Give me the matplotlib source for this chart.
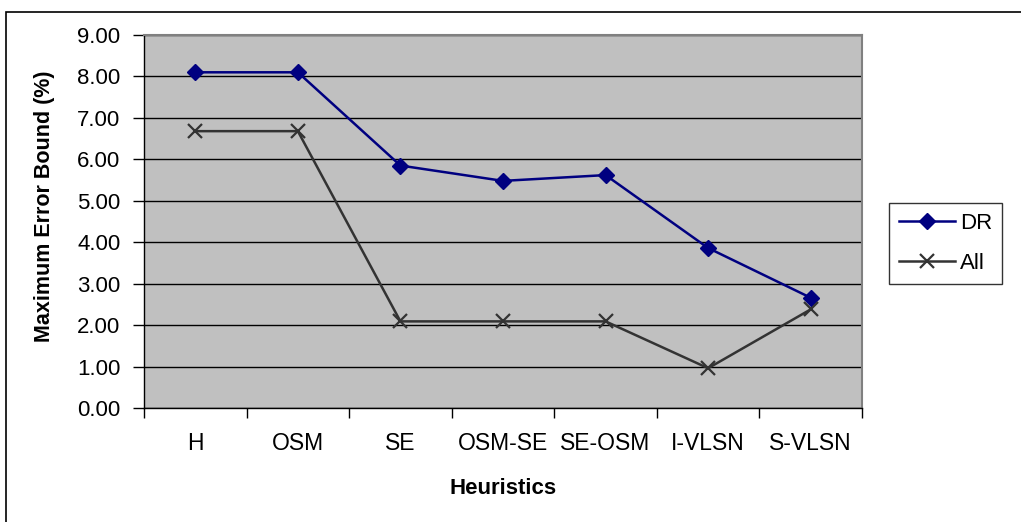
import numpy as np
import matplotlib.pyplot as plt
from matplotlib.patches import Rectangle

heuristics = ['H', 'OSM', 'SE', 'OSM-SE', 'SE-OSM', 'I-VLSN', 'S-VLSN']
dr = [8.10, 8.10, 5.85, 5.48, 5.62, 3.86, 2.66]
all_ = [6.68, 6.68, 2.09, 2.09, 2.09, 0.96, 2.38]

plt.rcParams['font.family'] = ['Liberation Sans', 'DejaVu Sans']

fig = plt.figure(figsize=(10.21, 5.22), dpi=100)
ax = fig.add_axes([144/1021, 1-408/522, (862-144)/1021, (408-35)/522])

x = np.arange(len(heuristics))
ax.set_facecolor('#C0C0C0')
ax.plot(x, dr, color='#000080', lw=1.8, marker='D', ms=8.5, label='DR', zorder=3)
ax.plot(x, all_, color='#333333', lw=1.8, marker='x', ms=10, mew=1.6, label='All', zorder=3)

ax.set_xlim(-0.5, len(heuristics) - 0.5)
ax.set_ylim(0, 9)
ax.set_yticks(np.arange(0, 10, 1))
ax.set_yticklabels([f'{v:.2f}' for v in range(10)], fontsize=16)
ax.yaxis.grid(True, color='black', lw=1)
ax.set_axisbelow(True)

ax.set_xticks(x)
ax.set_xticklabels(heuristics, fontsize=16.5)
ax.set_xticks(np.arange(-0.5, len(heuristics)), minor=True)
ax.tick_params(axis='x', which='major', length=0, pad=17)
ax.tick_params(axis='x', which='minor', length=7, width=1, color='black')
ax.tick_params(axis='y', length=8, width=1, color='black', pad=9)

for s in ['top', 'right']:
    ax.spines[s].set_color('#808080')
    ax.spines[s].set_linewidth(1.5)
for s in ['left', 'bottom']:
    ax.spines[s].set_color('black')
    ax.spines[s].set_linewidth(1)

ax.set_ylabel('Maximum Error Bound (%)', fontsize=15.5, fontweight='bold')
ax.yaxis.set_label_coords(-0.124, 0.542)
ax.set_xlabel('Heuristics', fontsize=16, fontweight='bold', labelpad=17)

leg = ax.legend(loc='upper left', bbox_to_anchor=(889/1021, 1-203/522),
                bbox_transform=fig.transFigure, frameon=True, fancybox=False,
                edgecolor='black', fontsize=16, handlelength=2.5,
                borderpad=0.45, labelspacing=0.85, handletextpad=0.25,
                borderaxespad=0)
leg.get_frame().set_linewidth(1)

fig.patches.append(Rectangle((6/1021, -0.1), 1.2, 1 - 12/522 + 0.1,
                             transform=fig.transFigure, fill=False,
                             edgecolor='black', lw=1.2))

fig.savefig('out.png', dpi=100)
